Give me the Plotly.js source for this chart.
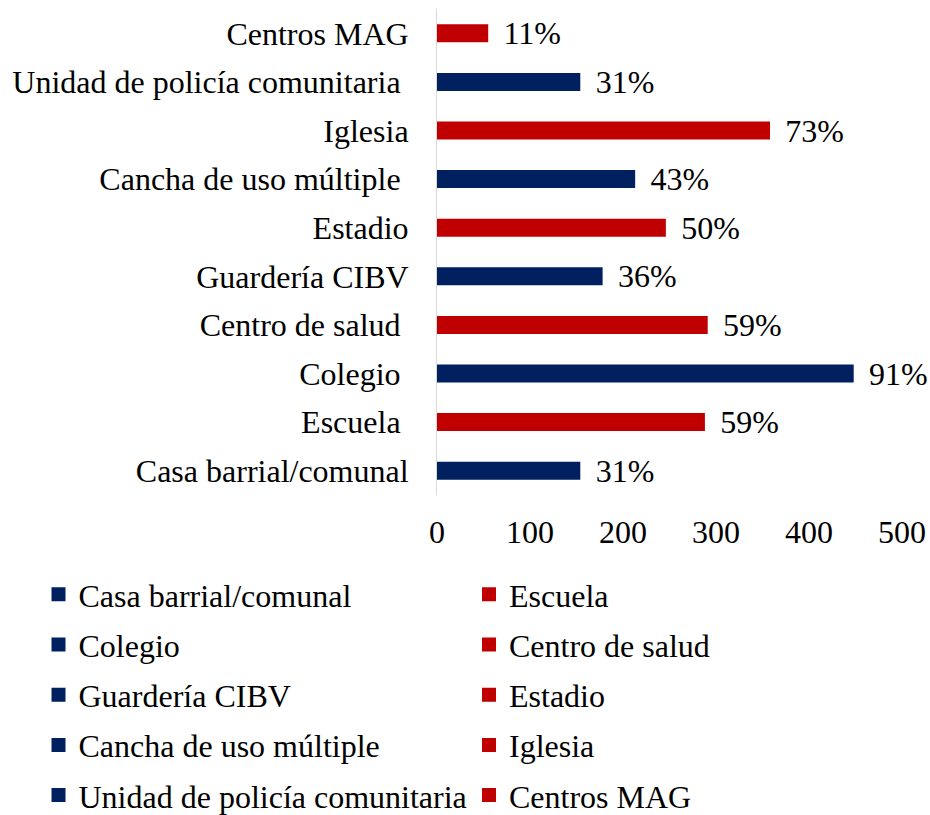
<!DOCTYPE html>
<html>
<head>
<meta charset="utf-8">
<script src="https://cdn.plot.ly/plotly-3.0.1.min.js"></script>
<style>
  html, body { margin: 0; padding: 0; background: #ffffff; }
  #chart { width: 930px; height: 815px; }
</style>
</head>
<body>
<div id="chart"></div>
<script>
// Categories from bottom to top (same order as the legend, row by row)
const categories = [
  "Casa barrial/comunal",
  "Escuela",
  "Colegio",
  "Centro de salud",
  "Guardería CIBV",
  "Estadio",
  "Cancha de uso múltiple",
  "Iglesia",
  "Unidad de policía comunitaria",
  "Centros MAG"
];
// Axis tick labels as printed (some carry a trailing space in the original)
const tickLabels = [
  "Casa barrial/comunal",
  "Escuela\u00a0",
  "Colegio\u00a0",
  "Centro de salud\u00a0",
  "Guardería CIBV",
  "Estadio",
  "Cancha de uso múltiple\u00a0",
  "Iglesia",
  "Unidad de policía comunitaria\u00a0",
  "Centros MAG"
];
// Counts
const counts = [153, 287, 447, 290, 177, 245, 212, 357, 153, 54];
// Percentage labels printed next to the bars
const pctLabels = ["31%", "59%", "91%", "59%", "36%", "50%", "43%", "73%", "31%", "11%"];
// Bar colours
const NAVY = "#002060";
const RED = "#C00000";
const barColors = [NAVY, RED, NAVY, RED, NAVY, RED, NAVY, RED, NAVY, RED];
// Legend column of each category
const legendColumn = ["legend", "legend2", "legend", "legend2", "legend", "legend2", "legend", "legend2", "legend", "legend2"];
const xTicks = [0, 100, 200, 300, 400, 500];

const FONT = "Liberation Serif";

const traces = categories.map((cat, i) => ({
  type: "bar",
  orientation: "h",
  name: cat,
  y: [cat],
  x: [counts[i]],
  text: ["\u00a0\u2006" + pctLabels[i]],
  textposition: "outside",
  constraintext: "none",
  cliponaxis: false,
  textfont: { family: FONT, size: 32, color: "#000000" },
  marker: { color: barColors[i], line: { color: barColors[i], width: 2 } },
  legend: legendColumn[i],
  legendgroup: "g" + i,
  hoverinfo: "x+y"
}));

const W = 930, H = 815;
const legendFont = { family: FONT, size: 32, color: "#000000" };

const layout = {
  width: W,
  height: H,
  margin: { l: 437, r: 28, t: 9, b: 320, pad: 0, autoexpand: false },
  paper_bgcolor: "#ffffff",
  plot_bgcolor: "#ffffff",
  barmode: "overlay",
  bargap: 0.671,
  font: { family: FONT, size: 32, color: "#000000" },
  showlegend: true,
  xaxis: {
    range: [0, 500],
    tickvals: xTicks,
    ticktext: xTicks.map(String),
    showgrid: false,
    zeroline: false,
    showline: false,
    ticks: "",
    ticklabelstandoff: 15,
    tickfont: { family: FONT, size: 32, color: "#000000" },
    fixedrange: true,
    automargin: false
  },
  yaxis: {
    type: "category",
    categoryorder: "array",
    categoryarray: categories,
    tickvals: categories,
    ticktext: tickLabels,
    showgrid: false,
    zeroline: false,
    showline: true,
    linecolor: "#d9d9d9",
    linewidth: 1,
    ticks: "",
    ticklabelstandoff: 21,
    tickfont: { family: FONT, size: 32, color: "#000000" },
    fixedrange: true,
    automargin: false
  },
  legend: {
    orientation: "v",
    xref: "container", yref: "container",
    x: 38.5 / W, xanchor: "left",
    y: 1 - 567 / H, yanchor: "top",
    traceorder: "grouped",
    tracegroupgap: 5.6,
    font: legendFont,
    bgcolor: "rgba(0,0,0,0)",
    borderwidth: 0
  },
  legend2: {
    orientation: "v",
    xref: "container", yref: "container",
    x: 469 / W, xanchor: "left",
    y: 1 - 567 / H, yanchor: "top",
    traceorder: "grouped",
    tracegroupgap: 5.6,
    font: legendFont,
    bgcolor: "rgba(0,0,0,0)",
    borderwidth: 0
  }
};

Plotly.newPlot("chart", traces, layout, { displayModeBar: false, staticPlot: true });
</script>
</body>
</html>
